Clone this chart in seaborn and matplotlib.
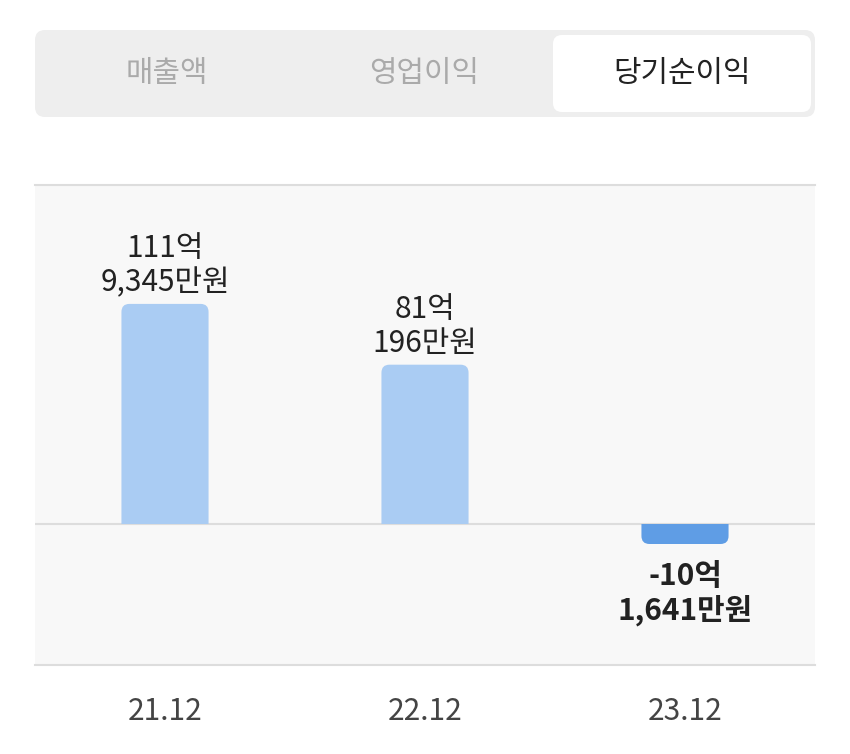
import matplotlib
matplotlib.use("Agg")
import matplotlib.pyplot as plt
from matplotlib.patches import FancyBboxPatch, Rectangle
import seaborn as sns
import pandas as pd

# ---- data ----
periods = ["21.12", "22.12", "23.12"]
values = [111.9345, 81.0196, -10.1641]          # 억 원
label_top = ["111억", "81억", "-10억"]
label_bottom = ["9,345만원", "196만원", "1,641만원"]
tabs = ["매출액", "영업이익", "당기순이익"]
active_tab = 2

sns.set_theme(style="white")
plt.rcParams['font.family'] = ['Noto Sans CJK KR', 'DejaVu Sans']

W, H = 850, 754
FS = 21.5
fig = plt.figure(figsize=(W / 100, H / 100), dpi=100)
fig.patch.set_facecolor("white")

# background / tab-bar axes in pixel coordinates
bg = fig.add_axes([0, 0, 1, 1])
bg.set_xlim(0, W)
bg.set_ylim(H, 0)
bg.axis("off")

bg.add_patch(FancyBboxPatch((35, 30), 780, 87, boxstyle="round,pad=0,rounding_size=10",
                            facecolor="#eeeeee", edgecolor="none"))
bg.add_patch(FancyBboxPatch((553, 35), 258, 77, boxstyle="round,pad=0,rounding_size=9",
                            facecolor="white", edgecolor="none"))
tab_x = [167, 424, 682]
for i, t in enumerate(tabs):
    bg.text(tab_x[i], 73, t, ha="center", va="center", fontsize=FS,
            color="#222222" if i == active_tab else "#aaaaaa")

# main chart axes
ax = fig.add_axes([35 / W, 1 - 665 / H, 780 / W, 480 / H])
ax.set_facecolor("#f8f8f8")

df = pd.DataFrame({"period": periods, "value": values})
colors = ["#aaccf3" if v >= 0 else "#5f9de5" for v in values]
sns.barplot(data=df, x="period", y="value", hue="period", palette=colors,
            width=0.335, legend=False, ax=ax, saturation=1)

ymin, ymax = -71.7, 172.4
ax.set_ylim(ymin, ymax)
ax.set_xlim(-0.5, 2.5)

# round far-end corners of bars (extend past zero and clip at the baseline)
px_x = 780 / 3.0                 # px per category unit
px_y = 480 / (ymax - ymin)       # px per data unit
aspect = px_x / px_y
r = 8 / px_x
ext = 20 / px_y
for p in list(ax.patches):
    x0, w, h = p.get_x(), p.get_width(), p.get_height()
    c = p.get_facecolor()
    p.set_visible(False)
    if h >= 0:
        y0, hh = -ext, h + ext
        clip = Rectangle((x0 - 1, 0), w + 2, h + 1, transform=ax.transData)
    else:
        y0, hh = h, -h + ext
        clip = Rectangle((x0 - 1, h - 1), w + 2, -h + 1, transform=ax.transData)
    fb = FancyBboxPatch((x0, y0), w, hh,
                        boxstyle=f"round,pad=0,rounding_size={r}",
                        mutation_aspect=aspect, facecolor=c, edgecolor="none", zorder=2)
    ax.add_patch(fb)
    fb.set_clip_path(clip)

ax.axhline(0, color="#dddddd", lw=1.5, zorder=1)

# value labels
for i, v in enumerate(values):
    txt = label_top[i] + "\n" + label_bottom[i]
    if v >= 0:
        ax.annotate(txt, (i, v), xytext=(0, 4), textcoords="offset points",
                    ha="center", va="bottom", fontsize=FS, color="#222222",
                    linespacing=1.15)
    else:
        ax.annotate(txt, (i, v), xytext=(0, -12), textcoords="offset points",
                    ha="center", va="top", fontsize=FS, color="#222222",
                    fontweight="bold", linespacing=1.15)

# axes styling
for s in ["left", "right"]:
    ax.spines[s].set_visible(False)
for s in ["top", "bottom"]:
    ax.spines[s].set_color("#dddddd")
    ax.spines[s].set_linewidth(1.5)
ax.set_yticks([])
ax.set_xlabel("")
ax.set_ylabel("")
ax.tick_params(axis="x", length=0, pad=22, labelsize=FS, labelcolor="#444444")

fig.savefig("out.png", dpi=100, facecolor="white")
